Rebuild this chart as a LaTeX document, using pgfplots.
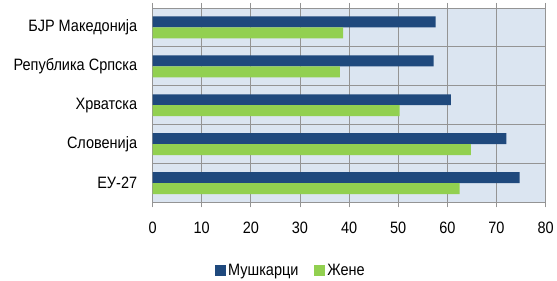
\documentclass[border=0pt]{standalone}
\usepackage{pgfplots}
\pgfplotsset{compat=1.18}
\usepackage{fontspec}
\setmainfont{Liberation Sans}[FakeStretch=0.88]
\definecolor{dblue}{HTML}{1F497D}
\definecolor{lgreen}{HTML}{92D050}
\definecolor{bgc}{HTML}{DBE5F1}
\definecolor{gridc}{HTML}{949494}
\begin{document}
\begin{tikzpicture}
\begin{axis}[
  scale only axis,
  width=394pt, height=195pt,
  xbar, bar width=11pt,
  xmin=0, xmax=80,
  xtick={0,10,...,80},
  ymin=-0.5, ymax=4.5,
  ytick={0,1,2,3,4},
  yticklabels={ЕУ-27,Словенија,Хрватска,Република Српска,БЈР Македонија},
  minor ytick={0.5,1.5,2.5,3.5},
  xmajorgrids, yminorgrids,
  major grid style={gridc, line width=0.9pt},
  minor grid style={gridc, line width=0.9pt},
  axis line style={gridc, line width=0.9pt},
  axis background/.style={fill=bgc},
  major y tick style={draw=none},
  minor y tick style={draw=none},
  x tick style={gridc, line width=0.9pt},
  xtick align=outside,
  major tick length=5pt,
  tick label style={font=\fontsize{16.5pt}{19pt}\selectfont},
  /pgf/number format/assume math mode=true,
  xticklabel style={yshift=-11pt},
  yticklabel style={xshift=-7pt},
  legend style={at={(0.352,-0.35)}, anchor=center, draw=none, fill=none,
    font=\fontsize{16.5pt}{19pt}\selectfont, legend columns=2,
    /tikz/every even column/.append style={column sep=14pt}},
  legend image code/.code={\fill[#1] (0pt,-5.5pt) rectangle (11pt,5.5pt);},
]
\addplot[draw=none, fill=dblue, bar shift=5.5pt] coordinates {(74.7,0) (72.0,1) (60.7,2) (57.2,3) (57.6,4)};
\addlegendentry{Мушкарци}
\addplot[draw=none, fill=lgreen, bar shift=-5.5pt] coordinates {(62.5,0) (64.8,1) (50.3,2) (38.1,3) (38.8,4)};
\addlegendentry{Жене}
\end{axis}
\path (-153pt,-78pt) rectangle (404pt,203pt);
\end{tikzpicture}
\end{document}
